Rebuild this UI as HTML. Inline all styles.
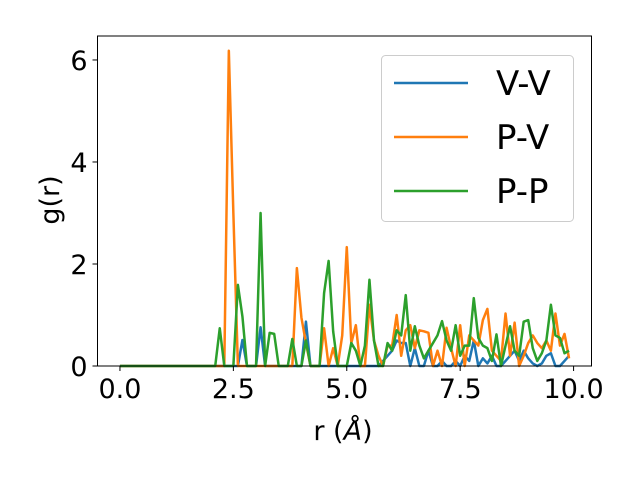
<!DOCTYPE html>
<html><head><meta charset="utf-8"><style>
html,body{margin:0;padding:0;background:#fff;}
svg{display:block;font-family:"DejaVu Sans","Liberation Sans",sans-serif;}
</style></head><body>
<svg id="chart" width="640" height="480" viewBox="0 0 640 480">
<rect width="640" height="480" fill="#fff"/>
<g id="plot"></g>
<g id="axes"></g>
<text x="59" y="200" font-size="27" text-anchor="middle" transform="rotate(-90 59 200)">g(r)</text>
<text x="343" y="440" font-size="27" text-anchor="middle">r (<tspan font-style="italic">Å</tspan>)</text>
<g>
<rect x="381.5" y="55.5" width="192" height="166" rx="4" fill="#fff" fill-opacity="0.8" stroke="#ccc"/>
<line x1="394" y1="83" x2="468" y2="83" stroke="#1f77b4" stroke-width="2.5"/>
<text x="496" y="95" font-size="34">V-V</text>
<line x1="394" y1="137" x2="468" y2="137" stroke="#ff7f0e" stroke-width="2.5"/>
<text x="496" y="149" font-size="34">P-V</text>
<line x1="394" y1="191" x2="468" y2="191" stroke="#2ca02c" stroke-width="2.5"/>
<text x="496" y="203" font-size="34">P-P</text>
</g>
</svg>
<script>
const vv = [0,0,0,0,0,0,0,0,0,0, 0,0,0,0,0,0,0,0,0,0, 0,0,0,0,0,0,0,0.51,0,0, 0,0.76,0,0,0,0,0,0,0,0, 0,0.87,0,0,0,0,0,0,0,0, 0,0,0,0,0,0,0,0,0.1,0.2, 0.3,0.5,0.45,0.45,0,0.35,0,0,0.3,0, 0,0.1,0,0,0.1,0,0.2,0.1,0.5,0, 0.15,0.05,0.2,0,0,0.1,0.2,0.3,0.1,0.3, 0.15,0.05,0,0.05,0.2,0.25,0,0,0.1,0.2];
const pv = [0,0,0,0,0,0,0,0,0,0, 0,0,0,0,0,0,0,0,0,0, 0,0,0,0,6.18,3.0,0,0,0,0, 0,0,0,0,0,0,0,0,0,1.92, 0.95,0.45,0,0,0,0.74,0,0.35,0,0.6, 2.33,0.45,0.8,0,0,1.2,0.5,0.2,0,0.4, 0.4,1.0,0.2,0.7,0.8,0.35,0.7,0.68,0.65,0, 0.3,0,0.75,0.35,0,0.8,0,0.6,0.5,0.4, 0.9,1.12,0.3,0.2,0.1,1.03,0.2,0.85,0,0.2, 0.45,0.6,0.45,0.35,0.5,0.3,1.03,0.4,0.63,0.15];
const pp = [0,0,0,0,0,0,0,0,0,0, 0,0,0,0,0,0,0,0,0,0, 0,0,0.74,0,0,0,1.59,0.97,0,0, 0,3.0,0,0.65,0.63,0,0,0,0.53,0, 0,0.5,0,0,0,1.43,2.06,0.68,0,0, 0,0.45,0.3,0,0.4,1.69,0.5,0,0,0.45, 0.3,0.7,0.6,1.39,0.3,0.78,0.4,0.15,0.3,0.45, 0.6,0.88,0.5,0.3,0.8,0.2,0.4,0.4,1.33,0.55, 0.4,0.35,0.1,0.62,0,0.4,0.78,0.3,0.2,0.87, 0.9,0.35,0.1,0.25,0.5,1.2,0.6,0.55,0.25,0.3];
const xTicks = [0, 2.5, 5, 7.5, 10];
const xTickLabels = ["0.0","2.5","5.0","7.5","10.0"];
const yTicks = [0, 2, 4, 6];
const yTickLabels = ["0","2","4","6"];
const rStep = 0.1;

const L=97.5,R=591.5,T=36,B=366;
const xmin=-0.495,xmax=10.395,ymin=0,ymax=6.47;
const sx=v=>L+(v-xmin)/(xmax-xmin)*(R-L);
const sy=v=>B-(v-ymin)/(ymax-ymin)*(B-T);
const NS="http://www.w3.org/2000/svg";
const plot=document.getElementById('plot'), axes=document.getElementById('axes');
function line(arr,color,name){
  const p=document.createElementNS(NS,'polyline');
  p.setAttribute('points',arr.map((v,i)=>sx(i*rStep).toFixed(2)+','+sy(v).toFixed(2)).join(' '));
  p.setAttribute('fill','none');p.setAttribute('stroke',color);p.setAttribute('stroke-width','2.5');
  p.setAttribute('stroke-linejoin','round');
  
  
  plot.appendChild(p);
}
line(vv,'#1f77b4','series-vv');
line(pv,'#ff7f0e','series-pv');
line(pp,'#2ca02c','series-pp');
const fr=document.createElementNS(NS,'rect');
fr.setAttribute('x',L);fr.setAttribute('y',T);fr.setAttribute('width',R-L);fr.setAttribute('height',B-T);
fr.setAttribute('fill','none');fr.setAttribute('stroke','#000');fr.setAttribute('stroke-width','1');


axes.appendChild(fr);
xTicks.forEach((t,k)=>{
  const x=sx(t);
  const l=document.createElementNS(NS,'line');
  l.setAttribute('x1',x);l.setAttribute('x2',x);l.setAttribute('y1',B);l.setAttribute('y2',B+5);l.setAttribute('stroke','#000');
  
  
  axes.appendChild(l);
  const tx=document.createElementNS(NS,'text');
  tx.setAttribute('x',x);tx.setAttribute('y',B+32);tx.setAttribute('font-size','27');tx.setAttribute('text-anchor','middle');
  tx.textContent=xTickLabels[k];
  
  
  axes.appendChild(tx);
});
yTicks.forEach((t,k)=>{
  const y=sy(t);
  const l=document.createElementNS(NS,'line');
  l.setAttribute('x1',L-5);l.setAttribute('x2',L);l.setAttribute('y1',y);l.setAttribute('y2',y);l.setAttribute('stroke','#000');
  
  
  axes.appendChild(l);
  const tx=document.createElementNS(NS,'text');
  tx.setAttribute('x',L-10);tx.setAttribute('y',y+10);tx.setAttribute('font-size','27');tx.setAttribute('text-anchor','end');
  tx.textContent=yTickLabels[k];
  
  
  axes.appendChild(tx);
});
</script>
</body></html>
